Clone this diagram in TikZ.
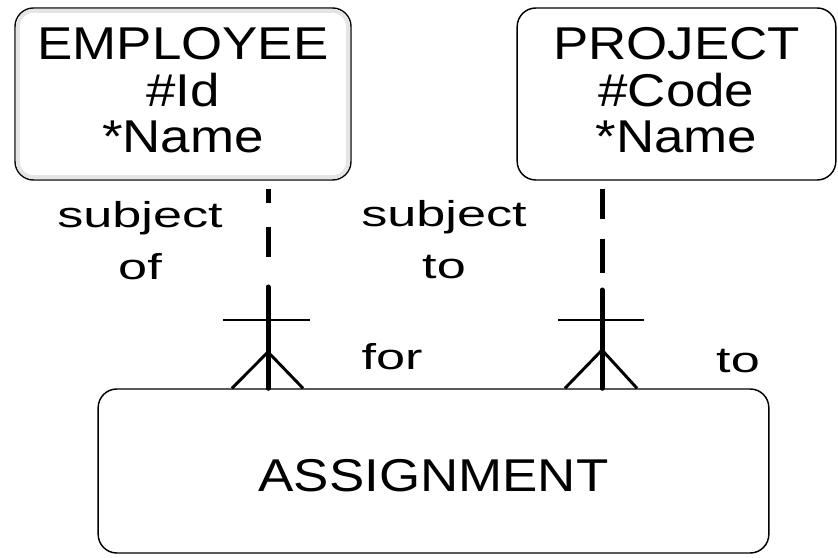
\documentclass[tikz,border=0pt]{standalone}
\usepackage{fontspec}
\setmainfont{Liberation Sans}
\newfontfamily\entityfont[FakeStretch=1.15]{Liberation Sans}
\newfontfamily\rolefont[FakeStretch=1.45]{Liberation Sans}
\usetikzlibrary{calc}
\tikzset{
  entity/.style={draw, line width=1.1pt, rounded corners=14pt, align=center, inner sep=0pt,
    font=\entityfont\fontsize{34.5}{35}\selectfont},
  role/.style={align=center, inner sep=0pt, font=\rolefont\fontsize{27}{39}\selectfont},
  optional/.style={line width=3.75pt},
  mandatory/.style={line width=3.75pt, line cap=round},
  crowfoot/.style={line width=2.2pt},
}

\begin{document}
\begin{tikzpicture}[x=0.75pt,y=0.75pt]
    \useasboundingbox (0,0) rectangle (838,557);

    % entities
    \node[entity, minimum width=252pt, minimum height=129pt, text depth=6pt] (emp) at (183,463) {EMPLOYEE\\\#Id\\{*}Name};
    \draw[gray!20, line width=3pt, rounded corners=12pt] ([shift={(3.5,-3.5)}]emp.north west) rectangle ([shift={(-3.5,3.5)}]emp.south east);
    \node[entity, minimum width=239pt, minimum height=129pt, text depth=6pt] (proj) at (676.5,463) {PROJECT\\\#Code\\{*}Name};
    \node[entity, minimum width=503pt, minimum height=123pt, text height=31pt] (asg) at (433.5,86) {ASSIGNMENT};

    % EMPLOYEE -- ASSIGNMENT
    \coordinate (empfoot) at (268,270);
    \coordinate (empbar) at (268,237);
    \coordinate (empapex) at (268,205);
    \draw[optional, dash pattern=on 10.5pt off 18pt on 22.5pt off 22.5pt, shorten <=6pt] (emp.south -| empfoot) -- (empfoot);
    \draw[mandatory] (empfoot) -- (empfoot |- asg.north);
    \draw[crowfoot] ($(empbar)+(-45,0)$) -- ($(empbar)+(42,0)$);
    \draw[crowfoot] ($(empfoot |- asg.north)+(-36,0)$) -- (empapex) -- ($(empfoot |- asg.north)+(35,0)$);

    % PROJECT -- ASSIGNMENT
    \coordinate (projfoot) at (602,267);
    \coordinate (projbar) at (602,237);
    \coordinate (projapex) at (602,207);
    \draw[optional, dash pattern=on 22.5pt off 15pt on 26pt off 13pt, shorten <=6pt] (proj.south -| projfoot) -- (projfoot);
    \draw[mandatory] (projfoot) -- (projfoot |- asg.north);
    \draw[crowfoot] ($(projbar)+(-44,0)$) -- ($(projbar)+(42,0)$);
    \draw[crowfoot] ($(projfoot |- asg.north)+(-37,0)$) -- (projapex) -- ($(projfoot |- asg.north)+(35,0)$);

    % relationship names
    \node[role] (subjof) at (140,316) {subject\\of};
    \node[role] (subjto) at (444,317) {subject\\to};
    \node[role, anchor=base] (for) at (392,187) {for};
    \node[role, anchor=base] (to) at (738,185) {to};
\end{tikzpicture}
\end{document}
